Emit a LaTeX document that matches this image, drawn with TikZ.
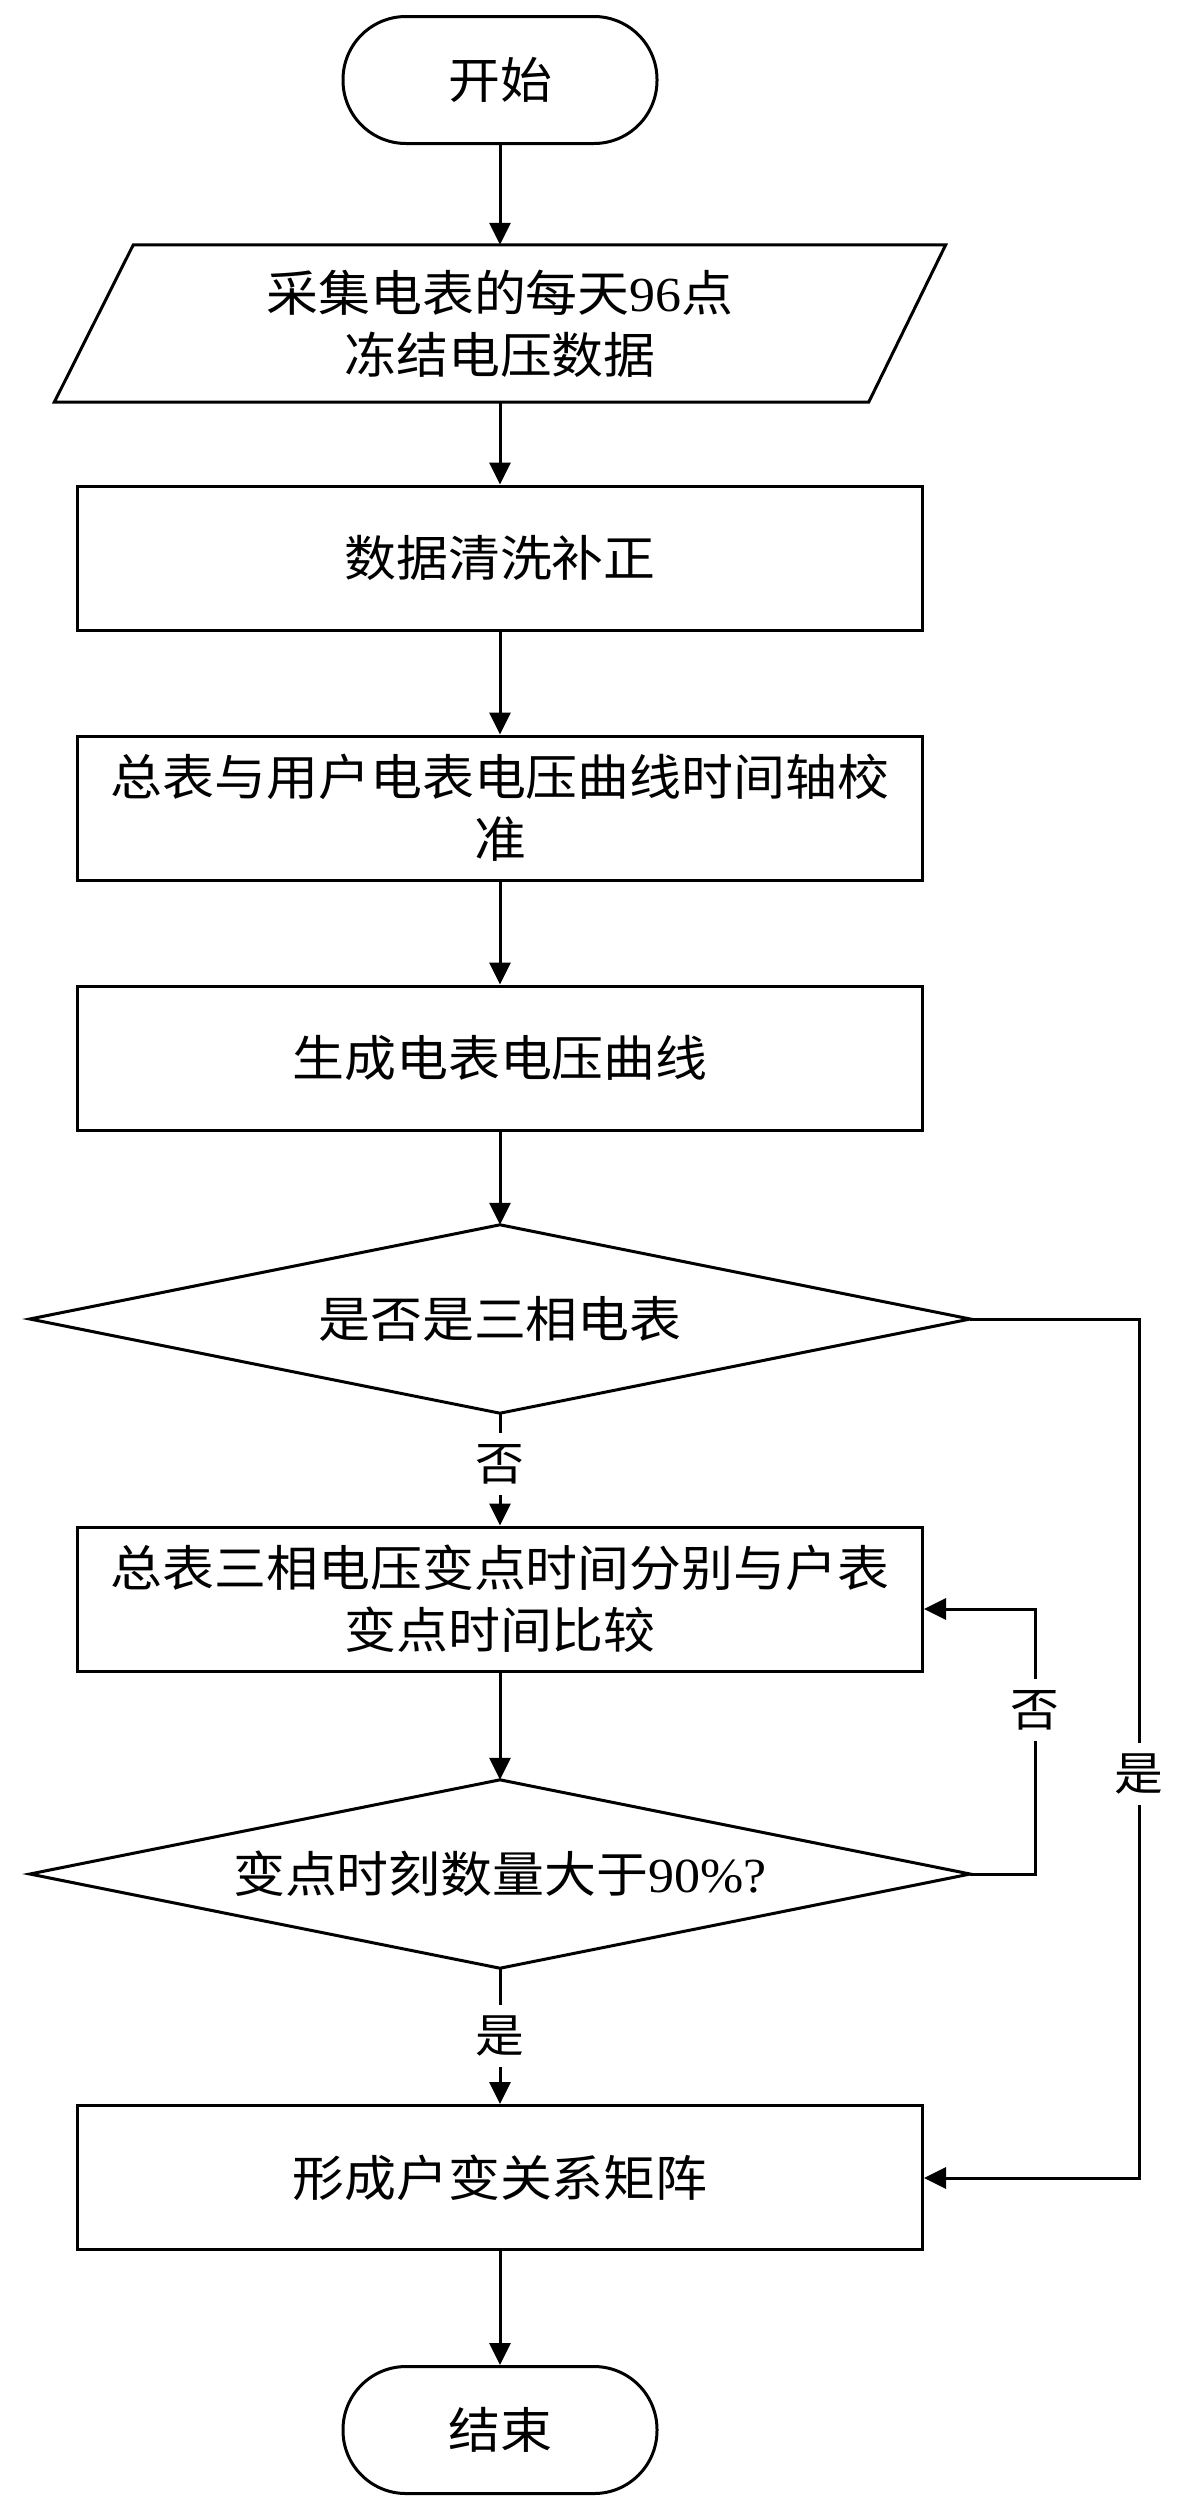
\documentclass[tikz,border=0pt]{standalone}
\usepackage{fontspec}
\setmainfont[FakeStretch=1.06]{Liberation Serif}
\newfontfamily\cjk[FakeStretch=1.06]{Noto Sans CJK SC}
\usetikzlibrary{arrows.meta}
\tikzset{
  every node/.style={font=\cjk\fontsize{49}{62}\selectfont, inner sep=0pt, align=center, text=black},
  proc/.style={draw, line width=3pt, minimum width=845pt, minimum height=144pt},
  term/.style={draw, line width=3pt, rounded corners=63pt, minimum width=314pt, minimum height=127pt},
  pbox/.style={minimum width=891pt, minimum height=157pt},
  dbox/.style={minimum width=940pt, minimum height=188pt},
  outline/.style={line width=3pt, line join=miter},
  conn/.style={line width=3pt, -{Triangle[length=22pt,width=21pt]}},
  lbl/.style={fill=white, font=\cjk\fontsize{46}{50}\selectfont, inner xsep=2pt, inner ysep=11pt},
}
\begin{document}
\begin{tikzpicture}[x=1pt,y=-1pt]
\useasboundingbox[fill=white] (0,0) rectangle (1176,2511);

% nodes
\node[term] (start) at (500,80) {开始};
\node[pbox] (data) at (500,323.5) {采集电表的每天{\rmfamily 96}点\\冻结电压数据};
\draw[outline] ([xshift=79pt]data.north west) -- (data.north east)
  -- ([xshift=-77pt]data.south east) -- (data.south west) -- cycle;
\node[proc] (clean) at (500,558) {数据清洗补正};
\node[proc] (align) at (500,808) {总表与用户电表电压曲线时间轴校\\准};
\node[proc] (curve) at (500,1058) {生成电表电压曲线};
\node[dbox] (d1) at (500,1319) {是否是三相电表};
\draw[outline] (d1.north) -- (d1.east) -- (d1.south) -- (d1.west) -- cycle;
\node[proc] (cmp) at (500,1599) {总表三相电压变点时间分别与户表\\变点时间比较};
\node[dbox] (d2) at (500,1874) {变点时刻数量大于{\rmfamily 90\%?}};
\draw[outline] (d2.north) -- (d2.east) -- (d2.south) -- (d2.west) -- cycle;
\node[proc] (mat) at (500,2177.5) {形成户变关系矩阵};
\node[term] (stop) at (500,2430) {结束};

% corner coordinates
\coordinate (yesA) at (1139,1319);
\coordinate (yesB) at (1139,2178);
\coordinate (noA) at (1035,1874);
\coordinate (noB) at (1035,1609);

% connectors
\draw[conn] (start) -- (data.north);
\draw[conn] (data.south) -- (clean);
\draw[conn] (clean) -- (align);
\draw[conn] (align) -- (curve);
\draw[conn] (curve) -- (d1.north);
\draw[conn] (d1.south) -- (cmp);
\draw[conn] (cmp) -- (d2.north);
\draw[conn] (d2.south) -- (mat);
\draw[conn] (mat) -- (stop);
\draw[conn] (d1.east) -- (yesA) -- (yesB) -- (yesB -| mat.east);
\draw[conn] (d2.east) -- (noA) -- (noB) -- (noB -| cmp.east);

% labels
\node[lbl] (l1) at (500,1464) {否};
\node[lbl] (l2) at (500,2036) {是};
\node[lbl] (l3) at (1035,1710) {否};
\node[lbl] (l4) at (1139,1774) {是};
\end{tikzpicture}
\end{document}
